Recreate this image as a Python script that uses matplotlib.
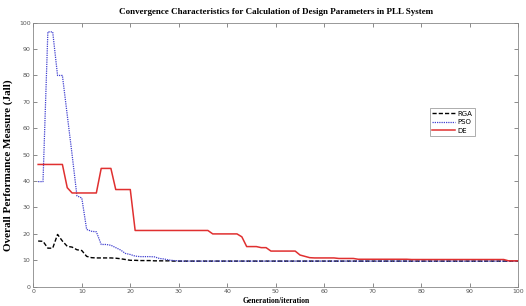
import matplotlib; matplotlib.use("Agg")
import matplotlib.pyplot as plt
import numpy as np

gen = np.arange(1, 101)

# ---- RGA (black dashed) ----
rga_head = [17.3, 17.2, 14.6, 14.6, 19.8, 17.3, 15.3, 15.0, 14.0, 13.7,
            11.5, 11.0, 10.9, 10.9, 10.9, 10.9, 10.8, 10.6, 10.3, 10.0,
            10.0, 9.9, 9.9, 9.9, 9.8, 9.8, 9.8, 9.8, 9.7, 9.7]
rga = rga_head + [9.7] * (100 - len(rga_head))

# ---- PSO (blue dotted) ----
pso_head = [39.8, 39.8, 96.5, 96.5, 80.0, 80.0, 65.0, 50.0, 34.4, 33.6,
            21.7, 21.0, 20.8, 16.0, 16.0, 15.7, 14.8, 13.9, 12.6, 12.2,
            11.6, 11.4, 11.4, 11.4, 11.3, 10.7, 10.5, 10.1, 9.9, 9.8]
pso = pso_head + [9.7] * (100 - len(pso_head))

# ---- DE (red solid) ----
de = ([46.3] * 6 + [37.5] + [35.5] * 6 + [44.8] * 3 + [36.8] * 4 +
      [21.3] * 16 + [20.0] * 6 + [18.9] + [15.2] * 3 + [14.8] * 2 +
      [13.5] * 6 + [12.0, 11.5, 11.0] + [10.9] * 5 + [10.7] * 4 +
      [10.4] * 11 + [10.3] * 20 + [9.8] * 3)

title = "Convergence Characteristics for Calculation of Design Parameters in PLL System"
serif = ["Liberation Serif", "DejaVu Serif"]

fig = plt.figure(figsize=(5.26, 3.06), dpi=100)
ax = fig.add_axes([0.0633, 0.063, 0.922, 0.863])

ax.plot(gen, rga, color="black", ls=(0, (3, 1.5)), lw=1.0, label="RGA")
ax.plot(gen, pso, color="#4040d0", ls=(0, (1, 0.8)), lw=0.9, label="PSO")
ax.plot(gen, de, color="#e03030", ls="-", lw=1.1, label="DE")

ax.set_xlim(0, 100); ax.set_ylim(0, 100)
ax.set_xticks(range(0, 101, 10)); ax.set_yticks(range(0, 101, 10))
ax.tick_params(direction="in", top=True, right=True, length=3, width=0.6,
               labelsize=4.5, labelcolor="#555555", color="#777777", pad=2)
for s in ax.spines.values():
    s.set_color("#888888"); s.set_linewidth(0.6)

ax.set_title(title, fontsize=6.5, fontweight="bold", family=serif, pad=6)
ax.set_xlabel("Generation/iteration", fontsize=5.5, fontweight="bold", family=serif, labelpad=2)
ax.set_ylabel("Overall Performance Measure (Jall)", fontsize=8, fontweight="bold", family=serif)
ax.yaxis.set_label_coords(-0.042, 0.46)

leg = ax.legend(loc="upper left", bbox_to_anchor=(0.81, 0.69), fontsize=5,
                frameon=True, fancybox=False, handlelength=3.2, borderpad=0.4,
                labelspacing=0.35, handletextpad=0.4)
leg.get_frame().set_edgecolor("#888888"); leg.get_frame().set_linewidth(0.6)

fig.savefig("out.png", dpi=100)
